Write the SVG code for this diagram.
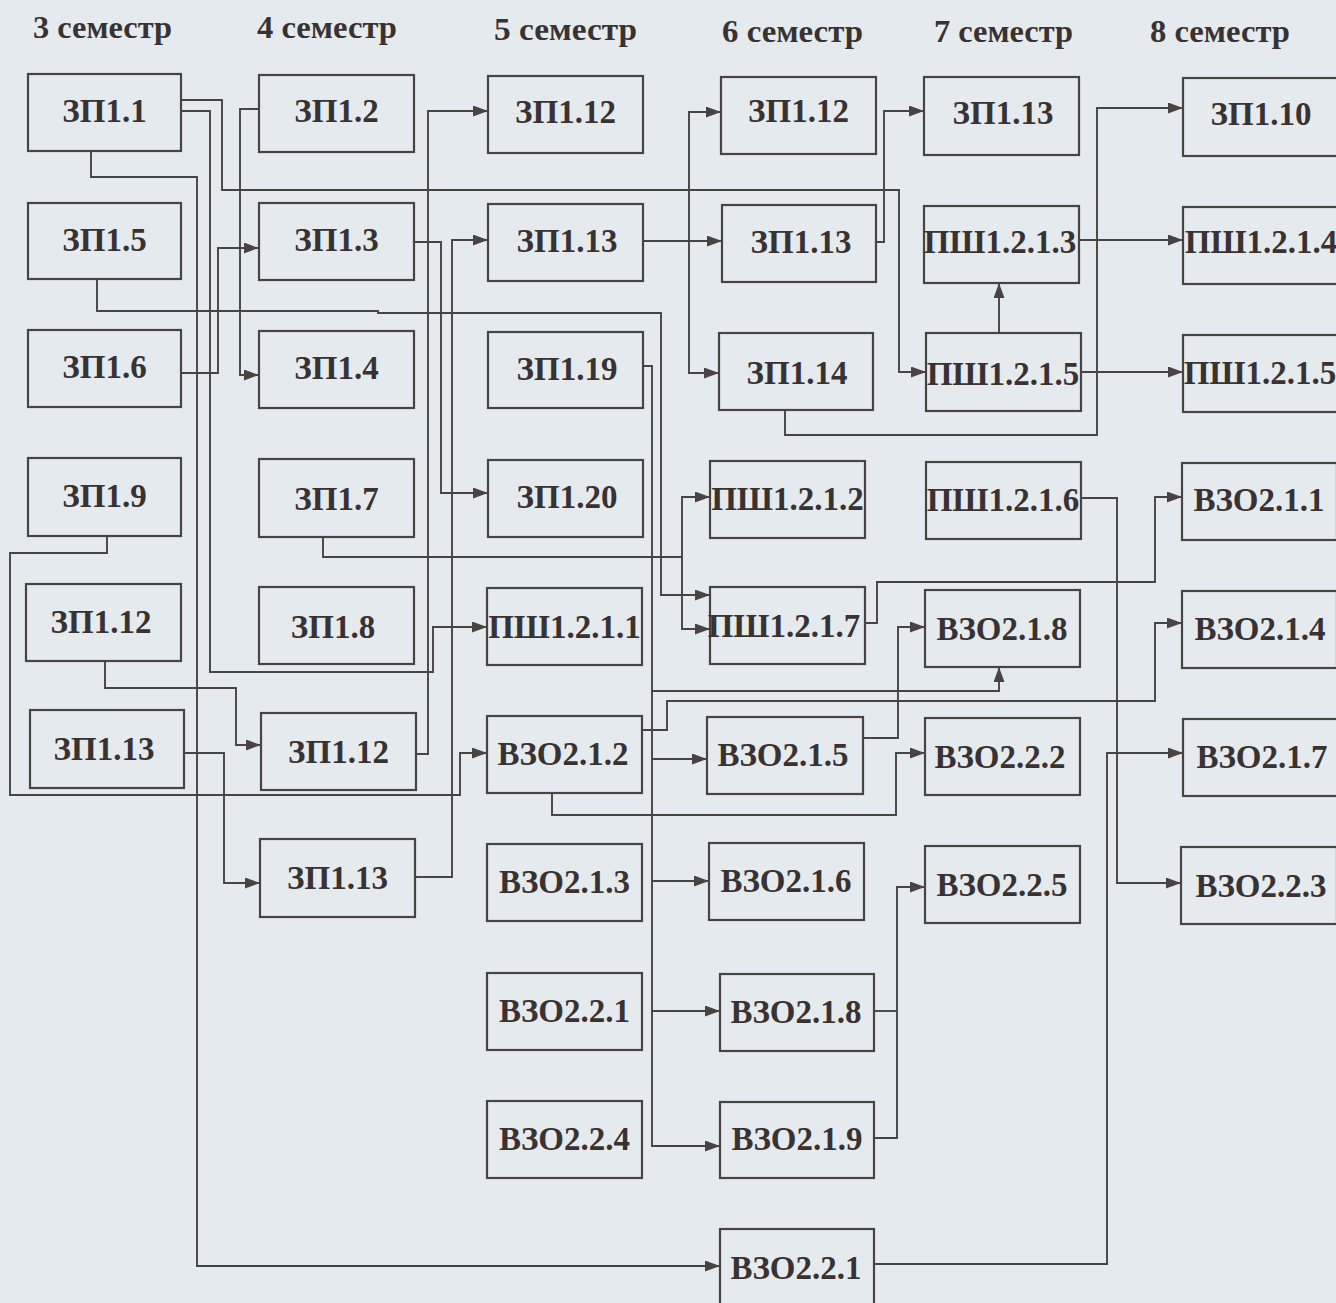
<svg xmlns="http://www.w3.org/2000/svg" width="1336" height="1303" viewBox="0 0 1336 1303">
<defs>
<style>
.bg{fill:#e5eaee}
.nd rect{fill:none;stroke:#4a4343;stroke-width:2.2}
.nd text{font-family:"Liberation Serif","Times New Roman",serif;font-weight:bold;font-size:33px;fill:#3a3232;text-anchor:middle}
.hd{font-family:"Liberation Serif","Times New Roman",serif;font-weight:bold;font-size:31px;fill:#3a3232}
#edges path{fill:none;stroke:#4a4343;stroke-width:1.9}
#edges path.a{marker-end:url(#ah)}
</style>
<marker id="ah" markerUnits="userSpaceOnUse" markerWidth="15" markerHeight="11" refX="15" refY="5.5" orient="auto">
<path d="M0,0 L15,5.5 L0,11 z" fill="#4a4343"/>
</marker>
</defs>
<rect class="bg" x="0" y="0" width="1336" height="1303"/>
<g id="headers">
<text class="hd" x="33" y="38" textLength="139" lengthAdjust="spacingAndGlyphs">3 семестр</text>
<text class="hd" x="257" y="38" textLength="140" lengthAdjust="spacingAndGlyphs">4 семестр</text>
<text class="hd" x="494" y="40" textLength="143" lengthAdjust="spacingAndGlyphs">5 семестр</text>
<text class="hd" x="722" y="42" textLength="141" lengthAdjust="spacingAndGlyphs">6 семестр</text>
<text class="hd" x="934" y="42" textLength="139" lengthAdjust="spacingAndGlyphs">7 семестр</text>
<text class="hd" x="1150" y="42" textLength="140" lengthAdjust="spacingAndGlyphs">8 семестр</text>
</g>
<g id="edges">
<path class="a" d="M181,100 H222 V190 H899 V372 H926"/>
<path class="a" d="M181,111 H210 V672 H433 V627 H487"/>
<path class="a" d="M91,151 V177 H197 V1266 H720"/>
<path class="a" d="M259,109 H240 V375 H259"/>
<path class="a" d="M181,373 H218 V248 H259"/>
<path class="a" d="M97,279 V311 H378 V313 H661 V595 H710"/>
<path class="a" d="M107,536 V553 H10 V795 H460 V753 H487"/>
<path class="a" d="M105,661 V688 H236 V745 H261"/>
<path class="a" d="M184,753 H224 V883 H260"/>
<path class="a" d="M414,242 H441 V493 H488"/>
<path class="a" d="M416,754 H428 V111 H488"/>
<path class="a" d="M415,877 H452 V240 H488"/>
<path d="M323,537 V557 H682"/>
<path class="a" d="M682,557 V497 H710"/>
<path class="a" d="M682,557 V629 H710"/>
<path class="a" d="M643,241 H722"/>
<path class="a" d="M689,241 V112 H721"/>
<path class="a" d="M689,241 V373 H719"/>
<path class="a" d="M876,242 H884 V111 H924"/>
<path class="a" d="M785,410 V435 H1097 V108 H1183"/>
<path class="a" d="M1079,240 H1183"/>
<path class="a" d="M1081,372 H1183"/>
<path class="a" d="M999,333 V283"/>
<path class="a" d="M643,366 H652 V1146 H720"/>
<path class="a" d="M652,691 H999 V667"/>
<path class="a" d="M652,759 H707"/>
<path class="a" d="M652,881 H709"/>
<path class="a" d="M652,1011 H720"/>
<path class="a" d="M642,730 H667 V701 H1155 V623 H1182"/>
<path class="a" d="M552,793 V815 H896 V753 H925"/>
<path class="a" d="M863,738 H898 V627 H925"/>
<path class="a" d="M865,623 H877 V582 H1155 V497 H1182"/>
<path class="a" d="M1081,498 H1117 V883 H1181"/>
<path class="a" d="M874,1264 H1107 V753 H1183"/>
<path d="M874,1011 H897"/>
<path class="a" d="M874,1138 H897 V887 H925"/>
</g>
<g id="n31" class="nd"><rect x="28" y="74" width="153" height="77"/><text x="104.5" y="122">ЗП1.1</text></g>
<g id="n32" class="nd"><rect x="28" y="203" width="153" height="76"/><text x="104.5" y="251">ЗП1.5</text></g>
<g id="n33" class="nd"><rect x="28" y="330" width="153" height="77"/><text x="104.5" y="378">ЗП1.6</text></g>
<g id="n34" class="nd"><rect x="28" y="458" width="153" height="78"/><text x="104.5" y="507">ЗП1.9</text></g>
<g id="n35" class="nd"><rect x="26" y="584" width="155" height="77"/><text x="101" y="633">ЗП1.12</text></g>
<g id="n36" class="nd"><rect x="30" y="710" width="154" height="78"/><text x="104" y="760">ЗП1.13</text></g>
<g id="n41" class="nd"><rect x="259" y="75" width="155" height="77"/><text x="336.5" y="122">ЗП1.2</text></g>
<g id="n42" class="nd"><rect x="259" y="203" width="155" height="77"/><text x="336.5" y="251">ЗП1.3</text></g>
<g id="n43" class="nd"><rect x="259" y="331" width="155" height="77"/><text x="336.5" y="379">ЗП1.4</text></g>
<g id="n44" class="nd"><rect x="259" y="459" width="155" height="78"/><text x="336.5" y="510">ЗП1.7</text></g>
<g id="n45" class="nd"><rect x="259" y="587" width="155" height="77"/><text x="333" y="638">ЗП1.8</text></g>
<g id="n46" class="nd"><rect x="261" y="713" width="155" height="77"/><text x="338.5" y="763">ЗП1.12</text></g>
<g id="n47" class="nd"><rect x="260" y="839" width="155" height="78"/><text x="337.5" y="889">ЗП1.13</text></g>
<g id="n51" class="nd"><rect x="488" y="76" width="155" height="77"/><text x="565.5" y="123">ЗП1.12</text></g>
<g id="n52" class="nd"><rect x="488" y="204" width="155" height="77"/><text x="567" y="252">ЗП1.13</text></g>
<g id="n53" class="nd"><rect x="488" y="332" width="155" height="76"/><text x="567" y="380">ЗП1.19</text></g>
<g id="n54" class="nd"><rect x="488" y="460" width="155" height="77"/><text x="567" y="508">ЗП1.20</text></g>
<g id="n55" class="nd"><rect x="487" y="588" width="155" height="77"/><text x="564.5" y="638">ПШ1.2.1.1</text></g>
<g id="n56" class="nd"><rect x="487" y="716" width="155" height="77"/><text x="563" y="765">ВЗО2.1.2</text></g>
<g id="n57" class="nd"><rect x="487" y="844" width="155" height="77"/><text x="564.5" y="893">ВЗО2.1.3</text></g>
<g id="n58" class="nd"><rect x="487" y="973" width="155" height="77"/><text x="564.5" y="1022">ВЗО2.2.1</text></g>
<g id="n59" class="nd"><rect x="487" y="1101" width="155" height="77"/><text x="564.5" y="1150">ВЗО2.2.4</text></g>
<g id="n61" class="nd"><rect x="721" y="77" width="155" height="77"/><text x="798.5" y="122">ЗП1.12</text></g>
<g id="n62" class="nd"><rect x="722" y="205" width="154" height="77"/><text x="801" y="253">ЗП1.13</text></g>
<g id="n63" class="nd"><rect x="719" y="333" width="154" height="77"/><text x="797" y="384">ЗП1.14</text></g>
<g id="n64" class="nd"><rect x="710" y="461" width="155" height="77"/><text x="787.5" y="510">ПШ1.2.1.2</text></g>
<g id="n65" class="nd"><rect x="710" y="587" width="155" height="77"/><text x="784" y="637">ПШ1.2.1.7</text></g>
<g id="n66" class="nd"><rect x="707" y="717" width="156" height="77"/><text x="783" y="766">ВЗО2.1.5</text></g>
<g id="n67" class="nd"><rect x="709" y="843" width="155" height="77"/><text x="786" y="892">ВЗО2.1.6</text></g>
<g id="n68" class="nd"><rect x="720" y="974" width="154" height="77"/><text x="796" y="1023">ВЗО2.1.8</text></g>
<g id="n69" class="nd"><rect x="720" y="1102" width="154" height="76"/><text x="797" y="1150">ВЗО2.1.9</text></g>
<g id="n70" class="nd"><rect x="720" y="1229" width="154" height="80"/><text x="796" y="1279">ВЗО2.2.1</text></g>
<g id="n71" class="nd"><rect x="924" y="77" width="155" height="78"/><text x="1003" y="124">ЗП1.13</text></g>
<g id="n72" class="nd"><rect x="924" y="206" width="155" height="77"/><text x="1000" y="253">ПШ1.2.1.3</text></g>
<g id="n73" class="nd"><rect x="926" y="333" width="155" height="78"/><text x="1003" y="385">ПШ1.2.1.5</text></g>
<g id="n74" class="nd"><rect x="926" y="462" width="155" height="77"/><text x="1003" y="511">ПШ1.2.1.6</text></g>
<g id="n75" class="nd"><rect x="925" y="590" width="155" height="77"/><text x="1002" y="640">ВЗО2.1.8</text></g>
<g id="n76" class="nd"><rect x="925" y="718" width="155" height="77"/><text x="1000" y="768">ВЗО2.2.2</text></g>
<g id="n77" class="nd"><rect x="925" y="846" width="155" height="77"/><text x="1002" y="896">ВЗО2.2.5</text></g>
<g id="n81" class="nd"><rect x="1183" y="78" width="155" height="78"/><text x="1261" y="125">ЗП1.10</text></g>
<g id="n82" class="nd"><rect x="1183" y="207" width="155" height="77"/><text x="1261" y="253">ПШ1.2.1.4</text></g>
<g id="n83" class="nd"><rect x="1183" y="335" width="155" height="77"/><text x="1260" y="384">ПШ1.2.1.5</text></g>
<g id="n84" class="nd"><rect x="1182" y="463" width="155" height="77"/><text x="1259" y="511">ВЗО2.1.1</text></g>
<g id="n85" class="nd"><rect x="1182" y="591" width="155" height="77"/><text x="1260" y="640">ВЗО2.1.4</text></g>
<g id="n86" class="nd"><rect x="1183" y="719" width="155" height="77"/><text x="1262" y="768">ВЗО2.1.7</text></g>
<g id="n87" class="nd"><rect x="1181" y="847" width="156" height="77"/><text x="1261" y="897">ВЗО2.2.3</text></g>
</svg>
